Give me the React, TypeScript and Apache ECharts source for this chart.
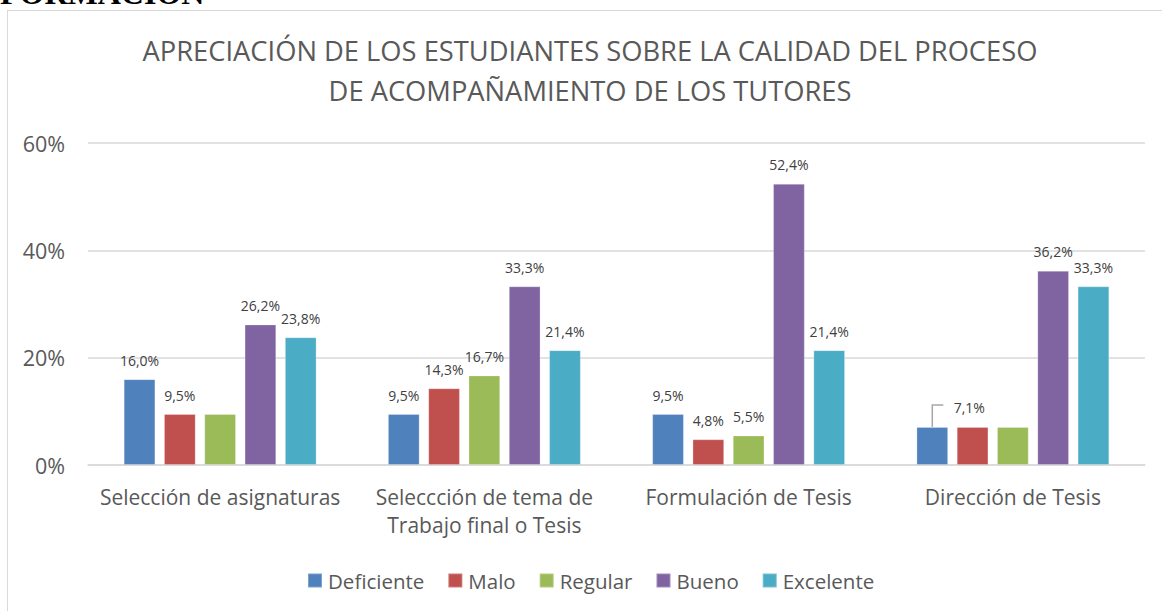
import React, { useEffect, useRef } from "react";
import * as echarts from "echarts";

const titleLines = [
  "APRECIACIÓN DE LOS ESTUDIANTES SOBRE LA CALIDAD DEL PROCESO",
  "DE ACOMPAÑAMIENTO DE LOS TUTORES",
];
const categories = [
  "Selección de asignaturas",
  "Seleccción de tema de\nTrabajo final o Tesis",
  "Formulación de Tesis",
  "Dirección de Tesis",
];
const seriesNames = ["Deficiente", "Malo", "Regular", "Bueno", "Excelente"];
const deficiente = [16.0, 9.5, 9.5, 7.1];
const malo = [9.5, 14.3, 4.8, 7.1];
const regular = [9.5, 16.7, 5.5, 7.1];
const bueno = [26.2, 33.3, 52.4, 36.2];
const excelente = [23.8, 21.4, 21.4, 33.3];
const seriesValues = [deficiente, malo, regular, bueno, excelente];
// which data labels are visible in the reference
const labelShown = [
  [true, true, true, true],
  [true, true, true, false],
  [false, true, true, false],
  [true, true, true, true],
  [true, true, true, true],
];
const colors = ["#4F81BD", "#C0504D", "#9BBB59", "#8064A2", "#4BACC6"];
const yMin = 0;
const yMax = 60;
const yInterval = 20;

const FONT = "'Open Sans', sans-serif";
const TEXT = "#595959";

const fmt = (v: number) => v.toFixed(1).replace(".", ",") + "%";

export default function App() {
  const ref = useRef<HTMLDivElement>(null);
  useEffect(() => {
    if (!ref.current) return;
    const chart = echarts.init(ref.current, undefined, { renderer: "svg" });
    const series = seriesNames.map((name, si) => ({
      name,
      type: "bar",
      barGap: "27%",
      barCategoryGap: "27%",
      itemStyle: { color: colors[si], borderColor: "rgba(255,255,255,0.25)", borderWidth: 1 },
      label: {
        show: true,
        position: "top",
        distance: 12,
        fontFamily: FONT,
        fontSize: 14,
        color: "#404040",
        formatter: (p: any) => fmt(p.value),
      },
      data: seriesValues[si].map((v, ci) => {
        const item: any = { value: v };
        if (!labelShown[si][ci]) item.label = { show: false };
        if (si === 0 && ci === 3) item.label = { show: true, offset: [37, 0] };
        return item;
      }),
    }));
    chart.setOption({
      animation: false,
      color: colors,
      title: {
        text: titleLines.join("\n"),
        left: 590,
        top: 30,
        padding: 0,
        textAlign: "center",
        textStyle: {
          fontFamily: FONT,
          fontSize: 27.3,
          fontWeight: "normal",
          color: TEXT,
          lineHeight: 40,
        },
      },
      legend: {
        data: seriesNames,
        left: 302,
        top: 565,
        itemWidth: 14,
        itemHeight: 14,
        itemGap: 23,
        icon: "rect",
        textStyle: { fontFamily: FONT, fontSize: 20.5, color: TEXT, padding: [0, 0, 0, 1] },
      },
      grid: { left: 88, right: 17, top: 143, bottom: 146, containLabel: false },
      xAxis: {
        type: "category",
        data: categories,
        axisLine: { lineStyle: { color: "#d9d9d9", width: 1.5 } },
        axisTick: { show: false },
        axisLabel: {
          fontFamily: FONT,
          fontSize: 21,
          color: TEXT,
          lineHeight: 28,
          margin: 18,
          interval: 0,
        },
      },
      yAxis: {
        type: "value",
        min: yMin,
        max: yMax,
        interval: yInterval,
        axisLine: { show: false },
        axisTick: { show: false },
        splitLine: { lineStyle: { color: "#d9d9d9", width: 1.5 } },
        axisLabel: {
          fontFamily: FONT,
          fontSize: 21.5,
          color: TEXT,
          margin: 23,
          formatter: (v: number) => v + "%",
        },
      },
      series,
    });
    // leader line for the moved label (Dirección de Tesis / Deficiente)
    try {
      const data = (chart as any).getModel().getSeriesByIndex(0).getData();
      const lay = data.getItemLayout(3);
      const cx = lay.x + lay.width / 2;
      const top = Math.min(lay.y, lay.y + lay.height);
      chart.setOption({
        graphic: [
          {
            type: "polyline",
            silent: true,
            shape: { points: [[cx, top], [cx, top - 22], [cx + 11, top - 22]] },
            style: { stroke: "#a6a6a6", lineWidth: 1.5, fill: "none" },
          },
        ],
      });
    } catch (e) {}
    return () => chart.dispose();
  }, []);
  return (
    <div
      style={{
        position: "absolute",
        left: 0,
        top: 0,
        width: 1162,
        height: 611,
        overflow: "hidden",
        background: "#fff",
      }}
    >
      <div
        style={{
          position: "absolute",
          left: 0,
          top: -23,
          fontFamily: "'Liberation Serif', serif",
          fontWeight: "bold",
          fontSize: 32,
          lineHeight: 1,
          color: "#000",
          whiteSpace: "nowrap",
        }}
      >
        FORMACIÓN
      </div>
      <div
        style={{
          position: "absolute",
          left: 7,
          top: 10,
          width: 1200,
          height: 700,
          border: "1px solid #d9d9d9",
          boxSizing: "border-box",
        }}
      />
      <div
        ref={ref}
        style={{ position: "absolute", left: 0, top: 0, width: 1162, height: 611 }}
      />
    </div>
  );
}
